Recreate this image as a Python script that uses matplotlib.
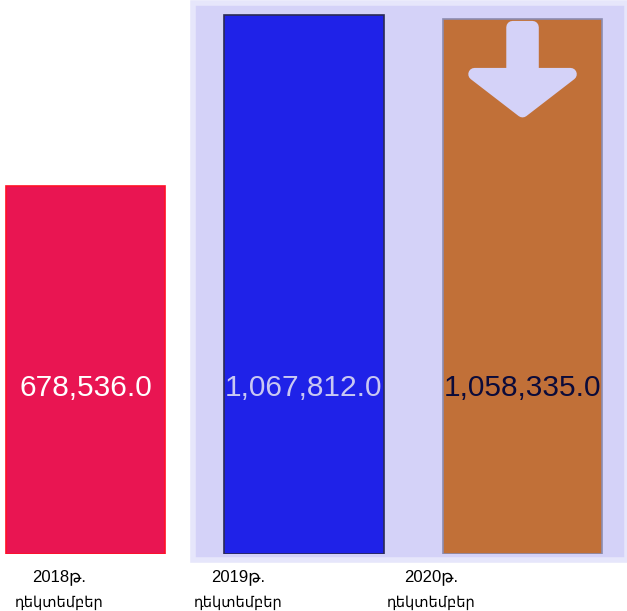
import matplotlib.pyplot as plt
from matplotlib.patches import Rectangle, Polygon

# Տվյալներ
years = ['2018թ.', '2019թ.', '2020թ.']
months = ['դեկտեմբեր', 'դեկտեմբեր', 'դեկտեմբեր']
values = [678536.0, 1067812.0, 1058335.0]
bar_colors = ['#E91552', '#1F22E8', '#C17038']
edge_colors = ['#FF1028', '#2A2A55', '#8C8CB0']
text_colors = ['white', '#C9C8F2', '#0B0B3A']
label_shift = [-0.12, -0.30, -0.42]

base = -160000.0
top = 1102000.0

fig = plt.figure(figsize=(6.27, 6.11), dpi=100)
fig.patch.set_facecolor('white')

# Մանուշակագույն ֆոն
bg = Rectangle((193 / 627, 1 - 560 / 611), 1 - 193 / 627, 557 / 611,
               transform=fig.transFigure, facecolor='#D4D2F8',
               edgecolor='#E6E6FB', linewidth=4, zorder=0)
fig.patches.append(bg)

ax = fig.add_axes([0, 1 - 554 / 611, 1, 554 / 611])
ax.set_zorder(2)
ax.set_facecolor('none')
ax.set_xlim(-0.391, 2.478)
ax.set_ylim(base, top)
ax.axis('off')

x = list(range(len(values)))
heights = [v - base for v in values]
bars = ax.bar(x, heights, bottom=base, width=0.728, color=bar_colors,
              edgecolor=edge_colors, linewidth=1.2, zorder=2)

fam = ['Liberation Sans', 'DejaVu Sans']
for i, v in enumerate(values):
    ax.text(x[i], 218000, f'{v:,.1f}', ha='center', va='center',
            fontsize=21.5, color=text_colors[i], family=fam, zorder=4)

tr = ax.get_xaxis_transform()
for i in range(len(years)):
    ax.text(x[i] + label_shift[i], -0.0415, years[i], transform=tr,
            ha='center', va='center', fontsize=12, family=fam, clip_on=False)
    ax.text(x[i] + label_shift[i], -0.0884, months[i], transform=tr,
            ha='center', va='center', fontsize=10.5, family=fam, clip_on=False)

# Սլաք երրորդ սյան մեջ
cx = x[2]
t = values[2]
px = 1 / 218.5
py = 1227812 / 539
arrow = [(cx - 10 * px, t - 8 * py), (cx + 10 * px, t - 8 * py),
         (cx + 10 * px, t - 55 * py), (cx + 48 * px, t - 55 * py),
         (cx, t - 92 * py), (cx - 48 * px, t - 55 * py),
         (cx - 10 * px, t - 55 * py)]
ax.add_patch(Polygon(arrow, closed=True, facecolor='#D4D2F8',
                     edgecolor='#D4D2F8', linewidth=9, joinstyle='round',
                     zorder=3))

fig.savefig('out.png', dpi=100)
